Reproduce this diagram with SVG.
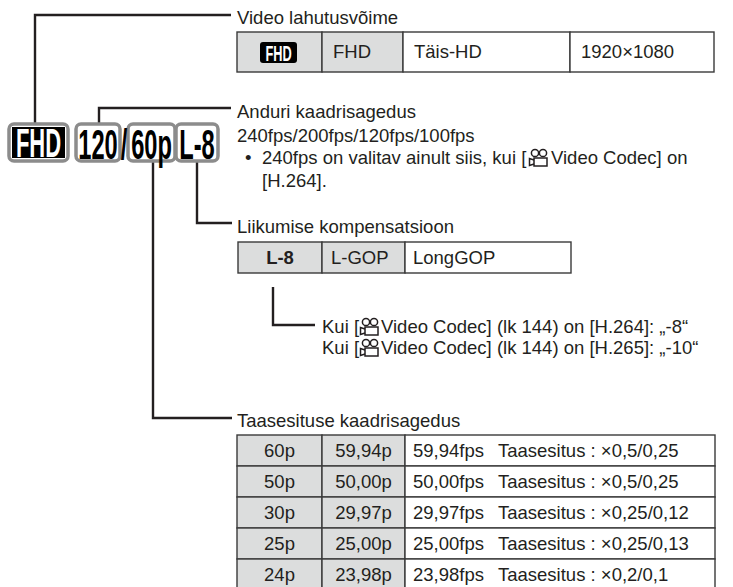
<svg xmlns="http://www.w3.org/2000/svg" width="733" height="587" viewBox="0 0 733 587">
<style>
.t{font-family:"Liberation Sans",Arial,sans-serif;font-size:18.5px;fill:#231f20}
.c{text-anchor:middle}
.b{font-weight:bold}
.conn{stroke:#231f20;stroke-width:2.4;fill:none}
.cell{stroke:#3a3a3a;stroke-width:1.4}
.g{fill:#dcdddd}
.w{fill:#ffffff}
.ib{fill:#ffffff;stroke:#8c8c8c;stroke-width:3.5}
.it{font-family:"Liberation Sans",Arial,sans-serif;font-weight:bold;font-size:43px;fill:#000;text-anchor:middle}
.cam{fill:none;stroke:#231f20;stroke-width:1.5}
</style>
<defs>
<g id="camicon">
<circle class="cam" cx="7" cy="5" r="3.6"/>
<circle class="cam" cx="15" cy="5" r="3.6"/>
<rect class="cam" x="6" y="10" width="13" height="8"/>
<path class="cam" d="M6 12 L1.5 10.5 L1.5 17.5 L6 16"/>
</g>
</defs>

<g id="connectors">
<polyline class="conn" points="35,124 35,15 231,15"/>
<polyline class="conn" points="99,124 99,108 231,108"/>
<polyline class="conn" points="197,161 197,223 232,223"/>
<polyline class="conn" points="153,161 153,418 232,418"/>
<polyline class="conn" points="273,287 273,325 315,325"/>
</g>

<g id="icons">
<rect class="ib" x="9" y="124" width="59" height="37" rx="5"/>
<rect x="12" y="127" width="53" height="31" fill="#000"/>
<text class="it" transform="translate(38.5,157) scale(0.55,1)" style="fill:#fff;font-size:40px">FHD</text>
<rect class="ib" x="76" y="124" width="44" height="37" rx="5"/>
<rect class="ib" x="128" y="124" width="47" height="37" rx="5"/>
<rect class="ib" x="176" y="124" width="42" height="37" rx="5"/>
<text class="it" transform="translate(98,159) scale(0.55,1)">120</text>
<text class="it" transform="translate(124,159) scale(0.55,1)">/</text>
<text class="it" transform="translate(151.5,159) scale(0.55,1)">60p</text>
<text class="it" transform="translate(197,159) scale(0.55,1)">L-8</text>
</g>

<g id="resolution">
<text class="t" x="237" y="24">Video lahutusvõime</text>
<rect class="cell g" x="237" y="32" width="85" height="40"/>
<rect class="cell g" x="322" y="32" width="81" height="40"/>
<rect class="cell w" x="403" y="32" width="167" height="40"/>
<rect class="cell w" x="570" y="32" width="144" height="40"/>
<rect x="260" y="42" width="37" height="21" rx="3" fill="#000"/>
<text class="t b c" transform="translate(278.5,61) scale(0.58,1)" style="fill:#fff;font-size:22px">FHD</text>
<text class="t" x="333" y="58">FHD</text>
<text class="t" x="414" y="58">Täis-HD</text>
<text class="t" x="581" y="58">1920×1080</text>
</g>

<g id="sensor">
<text class="t" x="237" y="118">Anduri kaadrisagedus</text>
<text class="t" x="237" y="142">240fps/200fps/120fps/100fps</text>
<text class="t" x="245" y="164">•</text>
<text class="t" x="262" y="164">240fps on valitav ainult siis, kui [</text>
<use href="#camicon" x="528" y="148"/>
<text class="t" x="551" y="164">Video Codec] on</text>
<text class="t" x="262" y="187">[H.264].</text>
</g>

<g id="motion">
<text class="t" x="237" y="233">Liikumise kompensatsioon</text>
<rect class="cell g" x="238" y="242" width="84" height="31"/>
<rect class="cell g" x="322" y="242" width="83" height="31"/>
<rect class="cell w" x="405" y="242" width="166" height="31"/>
<text class="t b c" x="280" y="264">L-8</text>
<text class="t" x="331" y="264">L-GOP</text>
<text class="t" x="413" y="264">LongGOP</text>
<text class="t" x="322" y="333">Kui [</text>
<use href="#camicon" x="359" y="317"/>
<text class="t" x="381" y="333">Video Codec] (lk 144) on [H.264]: „-8“</text>
<text class="t" x="322" y="354">Kui [</text>
<use href="#camicon" x="359" y="338"/>
<text class="t" x="381" y="354">Video Codec] (lk 144) on [H.265]: „-10“</text>
</g>

<g id="playback">
<text class="t" x="237" y="427">Taasesituse kaadrisagedus</text>
<g>
<rect class="cell g" x="237" y="435" width="85" height="31"/>
<rect class="cell g" x="322" y="435" width="83" height="31"/>
<rect class="cell w" x="405" y="435" width="310" height="31"/>
<text class="t c" x="279.5" y="457">60p</text>
<text class="t c" x="363.5" y="457">59,94p</text>
<text class="t" x="413" y="457">59,94fps</text>
<text class="t" x="498" y="457">Taasesitus : ×0,5/0,25</text>
</g>
<g>
<rect class="cell g" x="237" y="466" width="85" height="31"/>
<rect class="cell g" x="322" y="466" width="83" height="31"/>
<rect class="cell w" x="405" y="466" width="310" height="31"/>
<text class="t c" x="279.5" y="488">50p</text>
<text class="t c" x="363.5" y="488">50,00p</text>
<text class="t" x="413" y="488">50,00fps</text>
<text class="t" x="498" y="488">Taasesitus : ×0,5/0,25</text>
</g>
<g>
<rect class="cell g" x="237" y="497" width="85" height="31"/>
<rect class="cell g" x="322" y="497" width="83" height="31"/>
<rect class="cell w" x="405" y="497" width="310" height="31"/>
<text class="t c" x="279.5" y="519">30p</text>
<text class="t c" x="363.5" y="519">29,97p</text>
<text class="t" x="413" y="519">29,97fps</text>
<text class="t" x="498" y="519">Taasesitus : ×0,25/0,12</text>
</g>
<g>
<rect class="cell g" x="237" y="528" width="85" height="31"/>
<rect class="cell g" x="322" y="528" width="83" height="31"/>
<rect class="cell w" x="405" y="528" width="310" height="31"/>
<text class="t c" x="279.5" y="550">25p</text>
<text class="t c" x="363.5" y="550">25,00p</text>
<text class="t" x="413" y="550">25,00fps</text>
<text class="t" x="498" y="550">Taasesitus : ×0,25/0,13</text>
</g>
<g>
<rect class="cell g" x="237" y="559" width="85" height="31"/>
<rect class="cell g" x="322" y="559" width="83" height="31"/>
<rect class="cell w" x="405" y="559" width="310" height="31"/>
<text class="t c" x="279.5" y="581">24p</text>
<text class="t c" x="363.5" y="581">23,98p</text>
<text class="t" x="413" y="581">23,98fps</text>
<text class="t" x="498" y="581">Taasesitus : ×0,2/0,1</text>
</g>
</g>
</svg>
